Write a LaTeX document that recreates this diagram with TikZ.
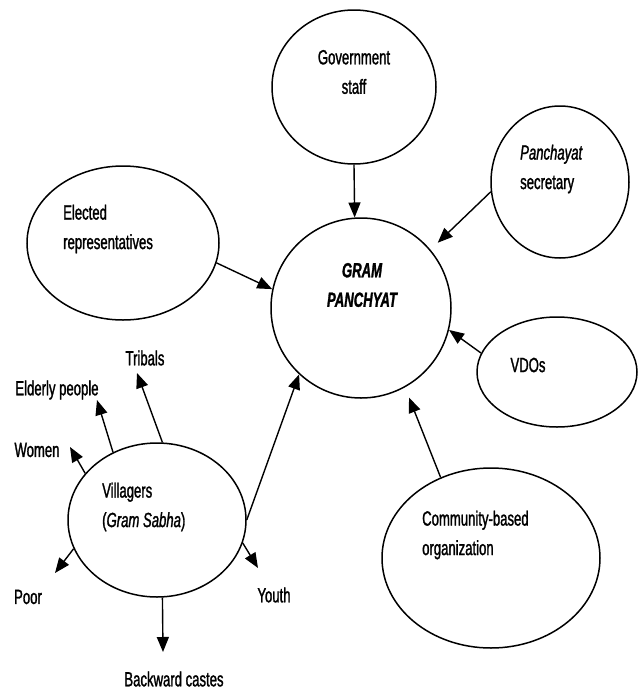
\documentclass[tikz,border=0pt]{standalone}
\usepackage{fontspec}
\setmainfont{Liberation Sans}[FakeStretch=0.64,FakeBold=1.3]
\usetikzlibrary{shapes.geometric,arrows.meta}
\begin{document}
\begin{tikzpicture}[x=1pt,y=-1pt,
  ell/.style={draw,ellipse,line width=1.5pt,inner sep=0pt},
  txt/.style={inner sep=0pt,font=\fontsize{20.5}{29.5}\selectfont},
  arr/.style={line width=1.4pt,-{Triangle[length=15pt,width=12pt]}}]
\useasboundingbox[fill=white] (0,0) rectangle (639,694);
% ellipses
\node[ell,minimum width=164pt,minimum height=154pt] (gov) at (354,87) {};
\node[ell,minimum width=180pt,minimum height=180pt] (gp) at (361,308) {};
\node[ell,minimum width=138pt,minimum height=152pt] (sec) at (560,182) {};
\node[ell,minimum width=192pt,minimum height=154pt] (elec) at (123,243) {};
\node[ell,minimum width=160pt,minimum height=110pt] (vdo) at (557,372) {};
\node[ell,minimum width=218pt,minimum height=180pt] (cbo) at (491,558) {};
\node[ell,minimum width=178pt,minimum height=154pt] (vil) at (157,520) {};
% texts
\node[txt,align=center] (govt) at (354,72) {Government\\staff};
\node[txt,align=center,font=\fontsize{20.5}{29.5}\selectfont\bfseries\itshape] (gpt) at (362,285) {GRAM\\PANCHYAT};
\node[txt,align=left,anchor=west] (sect) at (520,169) {\textit{Panchayat}\\secretary};
\node[txt,align=left,anchor=west] (elect) at (63,229) {Elected\\representatives};
\node[txt] (vdot) at (528,365) {VDOs};
\node[txt,align=left,anchor=west] (cbot) at (422,535) {Community-based\\organization};
\node[txt,align=left,anchor=west] (vilt) at (102,507) {Villagers\\(\textit{Gram Sabha})};
\node[txt] (trib) at (145,358) {Tribals};
\node[txt] (eld) at (57,390) {Elderly people};
\node[txt] (wom) at (37,450) {Women};
\node[txt] (poor) at (28,597) {Poor};
\node[txt] (you) at (274,595) {Youth};
\node[txt] (back) at (174,679) {Backward castes};
% arrow tips
\coordinate (tTrib) at (137,373);
\coordinate (tEld) at (97,400);
\coordinate (tWom) at (70,447);
\coordinate (tPoor) at (55,573);
\coordinate (tYou) at (258,568);
\coordinate (tBack) at (163,652);
% connectors into the Gram Panchayat
\draw[arr] (gov.-90) -- (gp.94);
\draw[arr] (elec.-12) -- (gp.168);
\draw[arr,shorten >=10pt] (sec.188) -- (gp.40);
\draw[arr] (vdo.166) -- (gp.-14);
\draw[arr,shorten >=11pt] (cbo.122) -- (gp.-61);
\draw[arr] (vil.0) -- (gp.227);
% connectors out of the villagers
\draw[arr] (vil.86) -- (tTrib);
\draw[arr] (vil.123) -- (tEld);
\draw[arr] (vil.147) -- (tWom);
\draw[arr] (vil.199) -- (tPoor);
\draw[arr] (vil.-15) -- (tYou);
\draw[arr] (vil.-86) -- (tBack);
\end{tikzpicture}
\end{document}
